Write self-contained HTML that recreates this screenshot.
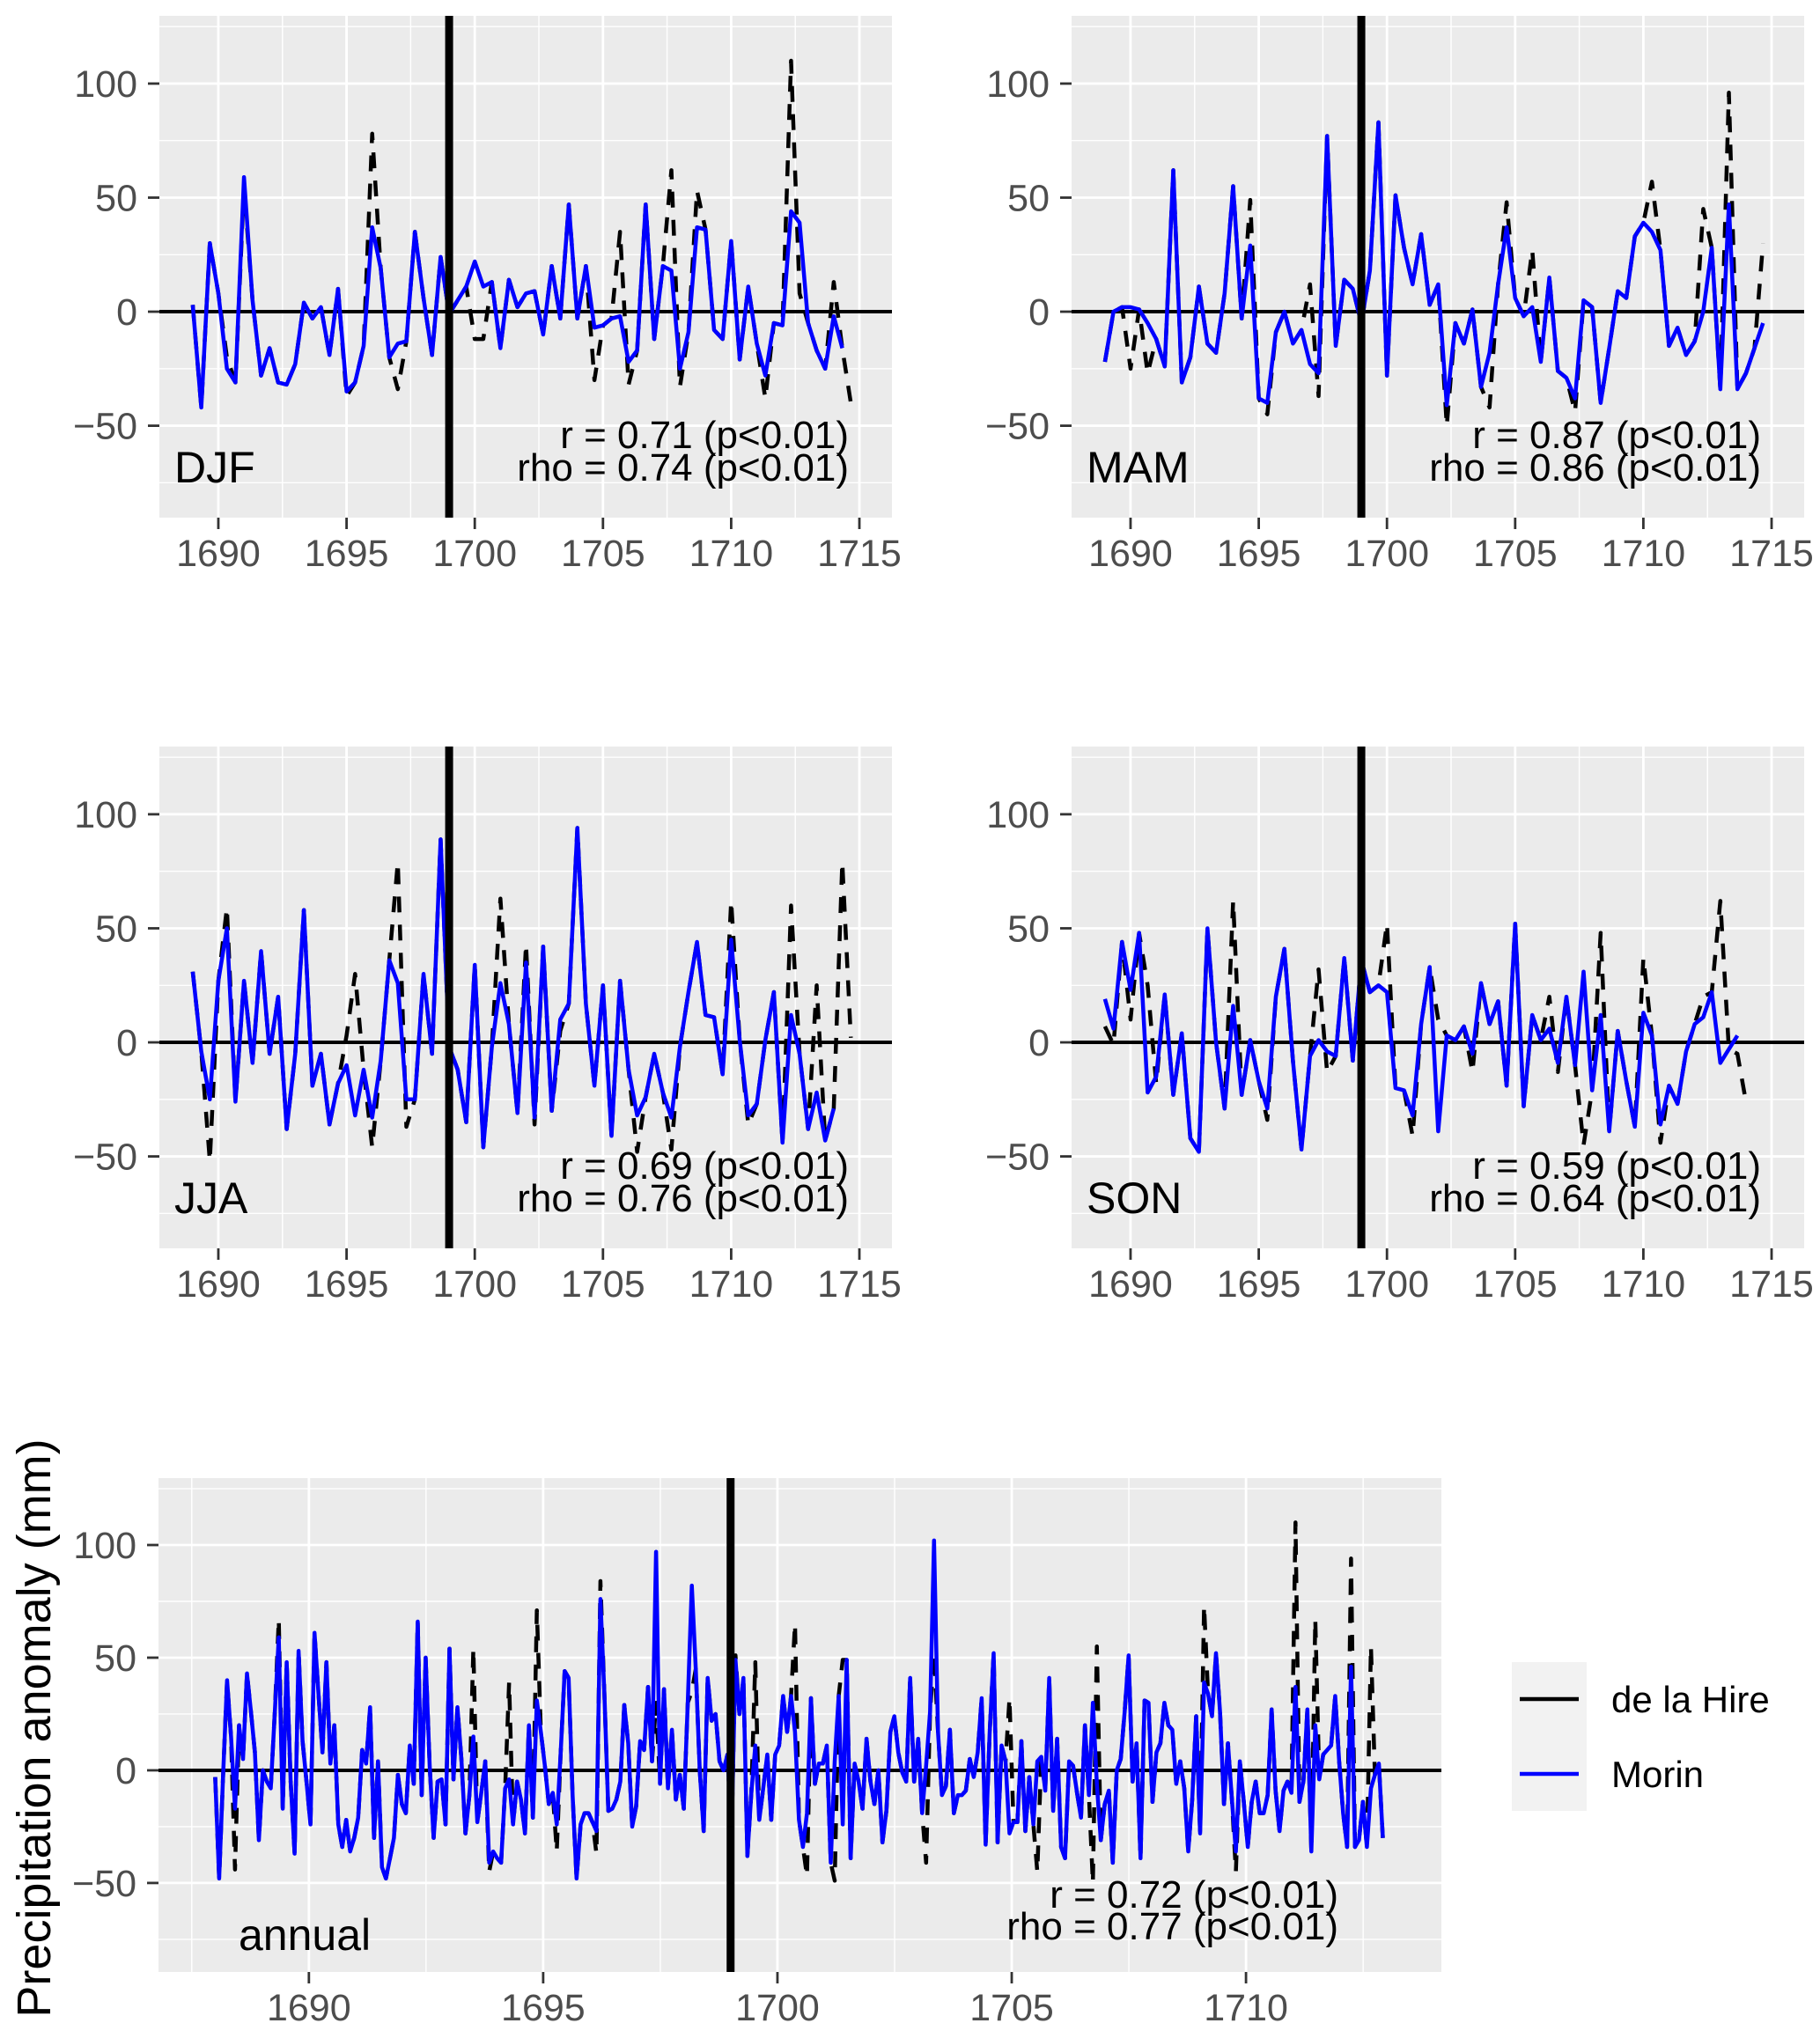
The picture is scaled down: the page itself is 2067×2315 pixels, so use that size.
<!DOCTYPE html>
<html><head><meta charset="utf-8"><title>Precipitation anomaly</title>
<style>html,body{margin:0;padding:0;background:#fff}svg{display:block}text{font-family:"Liberation Sans",sans-serif}</style>
</head><body>
<svg id="chart" xmlns="http://www.w3.org/2000/svg" width="2067" height="2315" viewBox="0 0 2067 2315">
<rect width="2067" height="2315" fill="#fff"/>
<text transform="translate(57,1963) rotate(-90)" text-anchor="middle" font-size="54" fill="#000">Precipitation anomaly (mm)</text>
<g>
<rect x="1717" y="1888" width="85" height="169" fill="#F2F2F2"/>
<line x1="1726" y1="1930" x2="1793" y2="1930" stroke="#000" stroke-width="4.5"/>
<line x1="1726" y1="2015" x2="1793" y2="2015" stroke="#0000FF" stroke-width="4.5"/>
<text x="1830" y="1945" font-size="42" fill="#000">de la Hire</text>
<text x="1830" y="2030" font-size="42" fill="#000">Morin</text>
</g>
</svg>
<script>
const seasonTicks = [1690,1695,1700,1705,1710,1715];
const annualTicks = [1690,1695,1700,1705,1710];
const yTicks = [-50,0,50,100];
const yTickLabels = ["\u221250","0","50","100"];
const breakYear = 1699;
const annualEndYear = 1712.92;

const djfMorin = [3,-42,30,8,-25,-31,59,5,-28,-16,-31,-32,-23,4,-3,2,-19,10,-35,-31,-15,37,19,-20,-14,-13,35,6,-19,24,-1,5,11,22,11,13,-16,14,2,8,9,-10,20,-3,47,-3,20,-7,-6,-3,-2,-22,-17,47,-12,20,18,-25,-9,37,36,-8,-12,31,-21,11,-14,-28,-5,-6,44,39,-5,-17,-25,-2,-16];
const djfHire = [3,-42,30,8,-20,-31,55,5,-28,-16,-31,-32,-23,4,-3,2,-19,10,-37,-31,-15,78,19,-20,-34,-13,35,6,-19,24,-1,5,11,-12,-12,13,-16,14,2,8,9,-10,20,-3,47,-3,20,-30,-6,-3,35,-32,-17,47,-12,20,62,-33,-9,53,36,-8,-12,31,-21,11,-14,-38,-5,-6,110,8,-5,-17,-25,13,-16,-40];

const mamMorin = [-22,0,2,2,1,-5,-12,-24,62,-31,-20,11,-14,-18,8,55,-3,29,-38,-40,-9,0,-14,-8,-23,-27,77,-15,14,10,-5,18,83,-28,51,28,12,34,3,12,-41,-5,-14,1,-33,-18,12,37,6,-2,2,-22,15,-26,-29,-38,5,2,-40,-16,9,6,33,39,35,27,-15,-7,-19,-13,0,28,-34,47,-34,-27,-16,-5];
const mamHire = [-22,0,2,-25,1,-27,-12,-24,62,-31,-20,11,-14,-18,8,55,-3,49,-38,-45,-9,0,-14,-8,12,-37,77,-15,14,10,-5,18,83,-28,51,28,12,34,3,12,-50,-5,-14,1,-33,-42,12,48,6,-2,27,-22,15,-26,-29,-44,5,2,-40,-16,9,6,33,39,57,27,-15,-7,-19,-13,45,28,-34,96,-34,-27,-16,30];

const jjaMorin = [31,-4,-25,27,50,-26,27,-9,40,-5,20,-38,-5,58,-19,-5,-36,-18,-10,-32,-12,-33,-8,36,26,-25,-25,30,-5,89,-2,-12,-35,34,-46,-2,26,8,-31,35,-33,42,-30,10,17,94,17,-19,25,-41,27,-12,-32,-24,-5,-22,-33,-2,22,44,12,11,-14,45,1,-32,-27,1,22,-44,12,-5,-38,-22,-43,-29];
const jjaHire = [31,-4,-52,27,59,-26,27,-9,40,-5,20,-38,-5,58,-19,-5,-36,-18,3,30,-12,-46,-8,36,79,-37,-25,30,-5,89,-2,-12,-35,34,-46,-2,63,8,-31,43,-36,42,-30,5,17,94,17,-19,25,-41,27,-12,-48,-24,-5,-22,-47,-2,22,44,12,11,-14,62,1,-36,-27,1,22,-44,60,-5,-38,25,-43,-29,79,2];

const sonMorin = [19,6,44,23,48,-22,-15,21,-23,4,-42,-48,50,0,-29,16,-23,1,-17,-29,20,41,-8,-47,-6,1,-4,-6,37,-8,36,22,25,22,-20,-21,-32,8,33,-39,3,1,7,-5,26,8,18,-19,52,-28,12,1,6,-9,20,-10,31,-21,12,-39,5,-17,-37,13,3,-36,-19,-27,-4,8,11,22,-9,-3,3];
const sonHire = [7,-1,44,10,48,25,-18,21,-23,4,-42,-48,50,0,-29,62,-23,1,-17,-34,20,41,-8,-47,-6,32,-13,-6,37,-8,36,22,25,52,-20,-21,-41,8,33,10,3,1,7,-13,26,8,18,-19,52,-28,12,1,20,-13,20,-10,-45,-21,48,-39,5,-17,-37,37,3,-44,-19,-27,-4,8,20,22,62,-3,-5,-26];

const annualMorin = [-3,-48,-2,40,15,-17,20,5,43,26,8,-31,0,-5,-8,25,59,-17,48,-5,-37,53,13,-5,-24,61,34,8,48,3,20,-24,-34,-22,-36,-30,-21,9,3,28,-30,4,-43,-48,-39,-30,-2,-15,-19,11,-6,66,-11,50,2,-30,-5,-4,-24,54,-4,28,5,-28,-11,15,-23,-10,4,-41,-36,-39,-41,-8,-4,-24,-5,-13,-28,20,-21,31,17,2,-15,-10,-24,8,44,41,-11,-48,-24,-19,-19,-23,-27,76,34,-18,-17,-13,
-5,29,12,-25,-16,13,9,37,4,97,-6,36,-8,18,-13,-2,-17,30,82,45,0,-27,41,22,25,4,0,7,-29,49,25,41,-38,-10,11,-22,-8,7,-22,7,11,33,17,33,17,-22,-34,-19,32,-6,3,3,11,-41,4,33,-24,49,-39,3,-5,-17,14,-5,-15,0,-32,-18,17,24,8,-1,-5,41,-5,14,-19,2,26,102,17,-11,-7,18,-19,-11,-11,-9,5,-3,8,32,-33,16,52,-32,11,4,-28,-23,-23,13,-27,-3,-24,
4,6,-9,41,-18,14,-34,-39,4,2,-10,-21,20,-11,30,-6,-31,-15,-9,-41,0,5,26,51,-5,12,-39,31,30,-14,8,12,30,20,18,-6,4,-8,-36,-13,24,-28,39,34,24,52,26,-15,12,-13,-36,4,-14,-34,-14,-5,-19,-19,-11,27,-9,-27,-9,-5,-10,37,-14,-5,27,-36,20,-4,7,9,11,33,4,-19,-34,46,-34,-31,-14,-34,-8,-2,3,-30];
const annualHire = [-3,-48,-2,40,15,-44,20,5,43,26,8,-31,0,-5,-8,25,67,-17,48,-5,-37,53,13,-5,-24,61,34,8,48,3,20,-24,-34,-22,-36,-30,-21,9,3,28,-30,4,-43,-48,-39,-30,-2,-15,-19,11,-6,66,-11,50,2,-30,-5,-4,-24,54,-4,28,5,-28,-11,54,-23,-10,4,-45,-36,-39,-41,-8,39,-24,-5,-13,-28,20,-21,71,17,2,-15,-10,-36,8,44,41,-11,-48,-24,-19,-19,-23,-37,84,34,-18,-17,-13,
-5,29,12,-25,-16,13,9,37,4,30,-6,36,-8,18,-13,-2,-17,30,35,45,0,-27,41,22,25,4,0,7,-29,51,25,41,-38,-10,48,-22,-8,7,-22,7,11,33,17,33,65,-22,-34,-47,32,-6,3,3,11,-41,-49,33,49,49,-39,3,-5,-17,14,-5,-15,0,-32,-18,17,24,8,-1,-5,41,-5,14,-19,-41,26,52,17,-11,-7,18,-19,-11,-11,-9,5,-3,8,32,-33,16,52,-32,11,4,32,-23,-23,13,-27,-3,-24,
-45,6,-9,41,-18,14,-34,-39,4,2,-10,-21,20,-11,-50,55,-31,-15,-9,-41,0,5,26,51,-5,12,-39,31,30,-14,8,12,30,20,18,-6,4,-8,-36,-13,24,-28,73,34,24,52,26,-15,12,-13,-45,4,-14,-34,-14,-5,-19,-19,-11,27,-9,-27,-9,-5,-10,110,-14,-5,27,-36,67,-4,7,9,11,33,4,-19,-34,94,-34,-31,-14,-34,55,-2,3,-30];

const NS = "http://www.w3.org/2000/svg";
const svg = document.getElementById("chart");
function mk(tag, attrs, parent) {
  const e = document.createElementNS(NS, tag);
  for (const k in attrs) e.setAttribute(k, attrs[k]);
  (parent || svg).appendChild(e);
  return e;
}

const panels = [
  {name:"djf", label:"DJF", x0:181, x1:1013, y0:18, y1:588, xd:[1687.7,1716.27], yd:[-90.3,129.7], morin:djfMorin, hire:djfHire, start:1689, step:1/3, ticks:seasonTicks, r:"r = 0.71 (p<0.01)", rho:"rho = 0.74 (p<0.01)"},
  {name:"mam", label:"MAM", x0:1217, x1:2049, y0:18, y1:588, xd:[1687.7,1716.27], yd:[-90.3,129.7], morin:mamMorin, hire:mamHire, start:1689, step:1/3, ticks:seasonTicks, r:"r = 0.87 (p<0.01)", rho:"rho = 0.86 (p<0.01)"},
  {name:"jja", label:"JJA", x0:181, x1:1013, y0:848, y1:1418, xd:[1687.7,1716.27], yd:[-90.3,129.7], morin:jjaMorin, hire:jjaHire, start:1689, step:1/3, ticks:seasonTicks, r:"r = 0.69 (p<0.01)", rho:"rho = 0.76 (p<0.01)"},
  {name:"son", label:"SON", x0:1217, x1:2049, y0:848, y1:1418, xd:[1687.7,1716.27], yd:[-90.3,129.7], morin:sonMorin, hire:sonHire, start:1689, step:1/3, ticks:seasonTicks, r:"r = 0.59 (p<0.01)", rho:"rho = 0.64 (p<0.01)"},
  {name:"annual", label:"annual", x0:180, x1:1637, y0:1679, y1:2240, xd:[1686.79,1714.17], yd:[-89.5,129.7], morin:annualMorin, hire:annualHire, start:1688, step:(annualEndYear-1688)/(annualMorin.length-1), ticks:annualTicks, r:"r = 0.72 (p<0.01)", rho:"rho = 0.77 (p<0.01)"}
];

panels.forEach(p => {
  const X = v => p.x0 + (v - p.xd[0]) / (p.xd[1] - p.xd[0]) * (p.x1 - p.x0);
  const Y = v => p.y1 - (v - p.yd[0]) / (p.yd[1] - p.yd[0]) * (p.y1 - p.y0);
  const g = mk("g", {});
  
  
  const bg = mk("rect", {x:p.x0, y:p.y0, width:p.x1-p.x0, height:p.y1-p.y0, fill:"#EBEBEB"}, g);
  
  
  for (let v = -75; v <= 125; v += 50) {
    const l = mk("line", {x1:p.x0, x2:p.x1, y1:Y(v), y2:Y(v), stroke:"#fff", "stroke-width":1.4}, g);
    
    
  }
  for (let v = p.ticks[0] - 2.5; v <= p.xd[1]; v += 5) {
    if (v < p.xd[0]) continue;
    const l = mk("line", {x1:X(v), x2:X(v), y1:p.y0, y2:p.y1, stroke:"#fff", "stroke-width":1.4}, g);
    
    
  }
  yTicks.forEach((v, i) => {
    const l = mk("line", {x1:p.x0, x2:p.x1, y1:Y(v), y2:Y(v), stroke:"#fff", "stroke-width":2.8}, g);
    
    
    const t = mk("line", {x1:p.x0-13, x2:p.x0, y1:Y(v), y2:Y(v), stroke:"#333", "stroke-width":2.8}, g);
    
    
    const tx = mk("text", {x:p.x0-25, y:Y(v)+15, "text-anchor":"end", "font-size":43, fill:"#4D4D4D"}, g);
    
    
    tx.textContent = yTickLabels[i];
  });
  p.ticks.forEach(v => {
    const l = mk("line", {x1:X(v), x2:X(v), y1:p.y0, y2:p.y1, stroke:"#fff", "stroke-width":2.8}, g);
    
    
    const t = mk("line", {x1:X(v), x2:X(v), y1:p.y1, y2:p.y1+13, stroke:"#333", "stroke-width":2.8}, g);
    
    
    const tx = mk("text", {x:X(v), y:p.y1+55, "text-anchor":"middle", "font-size":43, fill:"#4D4D4D"}, g);
    
    
    tx.textContent = String(v);
  });
  const z = mk("line", {x1:p.x0, x2:p.x1, y1:Y(0), y2:Y(0), stroke:"#000", "stroke-width":4}, g);
  
  
  const pts = arr => arr.map((v, i) => X(p.start + i * p.step).toFixed(1) + "," + Y(v).toFixed(1)).join(" ");
  const hl = mk("polyline", {points:pts(p.hire), fill:"none", stroke:"#000", "stroke-width":4.5, "stroke-dasharray":"18,14", "stroke-linejoin":"round"}, g);
  
  
  const ml = mk("polyline", {points:pts(p.morin), fill:"none", stroke:"#0000FF", "stroke-width":4.5, "stroke-linejoin":"round"}, g);
  
  
  const vb = mk("line", {x1:X(breakYear), x2:X(breakYear), y1:p.y0, y2:p.y1, stroke:"#000", "stroke-width":9}, g);
  
  
  const isAnnual = p.name === "annual";
  const lab = mk("text", {x:isAnnual ? 271 : p.x0 + 17, y:isAnnual ? 2215 : p.y0 + 530, "font-size":50, fill:"#000"}, g);
  
  
  lab.textContent = p.label;
  const rx = isAnnual ? 1520 : p.x1 - 49;
  const rt = mk("text", {x:rx, y:isAnnual ? 2167 : p.y0 + 491, "text-anchor":"end", "font-size":44, fill:"#000"}, g);
  
  
  rt.textContent = p.r;
  const rh = mk("text", {x:rx, y:isAnnual ? 2203 : p.y0 + 528, "text-anchor":"end", "font-size":44, fill:"#000"}, g);
  
  
  rh.textContent = p.rho;
});
</script>
</body></html>
